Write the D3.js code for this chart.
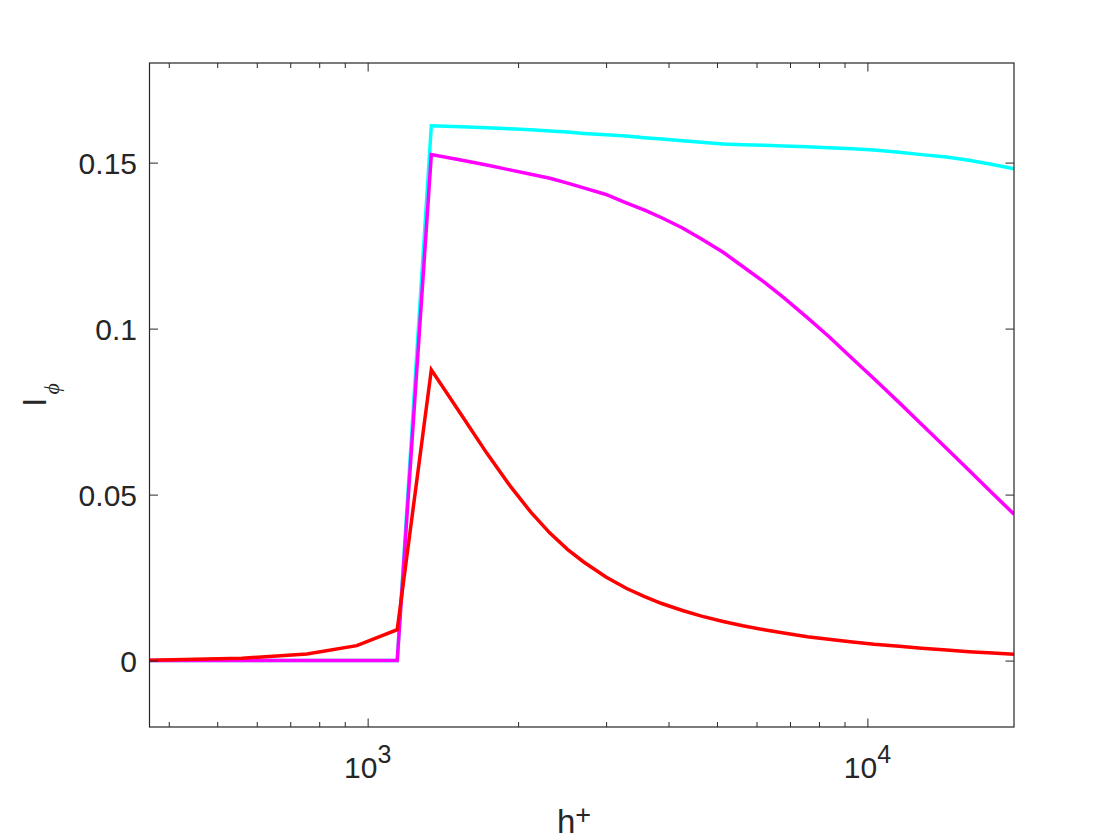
<!DOCTYPE html>
<html>
<head>
<meta charset="utf-8">
<script src="https://cdn.jsdelivr.net/npm/d3@7"></script>
<style>
  html, body { margin: 0; padding: 0; background: #ffffff; }
  svg { display: block; }
  text { font-family: "Liberation Sans", Arial, Helvetica, sans-serif; fill: #262626; }
</style>
</head>
<body>
<svg id="chart" width="1120" height="840"></svg>
<script>
// ---- data ----
const hPlus = [366, 561, 756, 951, 1146, 1341, 1536, 1731, 1926, 2121, 2316, 2511, 2706, 2998, 3291, 3583, 3876, 4266, 4656, 5144, 5631, 6216, 6801, 7581, 8361, 9336, 10311, 11578, 12846, 14406, 15966, 17808, 19650];
const seriesCyan    = [0, 0, 0, 0, 0, 0.1611, 0.1608, 0.1605, 0.1602, 0.1599, 0.1595, 0.1592, 0.1588, 0.1584, 0.1580, 0.1575, 0.1571, 0.1566, 0.1561, 0.1556, 0.1554, 0.1552, 0.1550, 0.1548, 0.1545, 0.1542, 0.1538, 0.1531, 0.1524, 0.1517, 0.1507, 0.1494, 0.1481];
const seriesMagenta = [0, 0, 0, 0, 0, 0.1524, 0.1508, 0.1493, 0.1478, 0.1465, 0.1453, 0.1438, 0.1424, 0.1404, 0.1379, 0.1357, 0.1334, 0.1303, 0.1270, 0.1230, 0.1187, 0.1140, 0.1093, 0.1033, 0.0977, 0.0909, 0.0849, 0.0777, 0.0711, 0.0639, 0.0573, 0.0503, 0.0441];
const seriesRed     = [0.0001, 0.0007, 0.0020, 0.0045, 0.0093, 0.0876, 0.0743, 0.0625, 0.0527, 0.0447, 0.0384, 0.0335, 0.0297, 0.0252, 0.0218, 0.0193, 0.0172, 0.0151, 0.0134, 0.0118, 0.0105, 0.0093, 0.0083, 0.0072, 0.0064, 0.0056, 0.0049, 0.0043, 0.0037, 0.0032, 0.0027, 0.0023, 0.0019];
const seriesColors  = ["#00ffff", "#ff00ff", "#ff0000"];
const xDomain = [366, 19650];
const yDomain = [-0.02, 0.18];
const yTickValues = [0, 0.05, 0.1, 0.15];
const yTickLabels = ["0", "0.05", "0.1", "0.15"];
const xMajorTicks = [1000, 10000];
const xMajorExp = ["3", "4"];
const xMinorTicks = [400, 500, 600, 700, 800, 900, 2000, 3000, 4000, 5000, 6000, 7000, 8000, 9000];

// ---- layout ----
const L = 149.5, R = 1014, T = 63, B = 727;
const svg = d3.select("#chart");
const x = d3.scaleLog().domain(xDomain).range([L, R]);
const y = d3.scaleLinear().domain(yDomain).range([B, T]);
const axisColor = "#262626";

svg.append("rect").attr("width", 1120).attr("height", 840).attr("fill", "#ffffff");

svg.append("defs").append("clipPath").attr("id", "plotclip")
  .append("rect").attr("x", L).attr("y", T).attr("width", R - L).attr("height", B - T);

// ---- lines ----
const series = [seriesCyan, seriesMagenta, seriesRed];
const line = d3.line().x((d, i) => x(hPlus[i])).y(d => y(d));
const gLines = svg.append("g").attr("clip-path", "url(#plotclip)");
series.forEach((s, k) => {
  gLines.append("path")
    .datum(s)
    .attr("d", line)
    .attr("fill", "none")
    .attr("stroke", seriesColors[k])
    .attr("stroke-width", 3.5)
    .attr("stroke-linejoin", "miter");
});

// ---- axes (box with inward ticks on all sides) ----
const gAx = svg.append("g");
const majorLen = 8.5, minorLen = 5;

const xAxisBottom = d3.axisBottom(x).tickValues(xMajorTicks).tickSize(-majorLen).tickFormat("");
const xAxisBottomMinor = d3.axisBottom(x).tickValues(xMinorTicks).tickSize(-minorLen).tickFormat("");
const xAxisTop = d3.axisTop(x).tickValues(xMajorTicks).tickSize(-majorLen).tickFormat("");
const xAxisTopMinor = d3.axisTop(x).tickValues(xMinorTicks).tickSize(-minorLen).tickFormat("");
const yAxisLeft = d3.axisLeft(y).tickValues(yTickValues).tickSize(-majorLen).tickFormat("");
const yAxisRight = d3.axisRight(y).tickValues(yTickValues).tickSize(-majorLen).tickFormat("");

function styleAxis(g) {
  g.selectAll("path.domain").remove();
  g.selectAll("line").attr("stroke", axisColor).attr("stroke-width", 1);
}
gAx.append("g").attr("transform", `translate(0,${B})`).call(xAxisBottom).call(styleAxis);
gAx.append("g").attr("transform", `translate(0,${B})`).call(xAxisBottomMinor).call(styleAxis);
gAx.append("g").attr("transform", `translate(0,${T})`).call(xAxisTop).call(styleAxis);
gAx.append("g").attr("transform", `translate(0,${T})`).call(xAxisTopMinor).call(styleAxis);
gAx.append("g").attr("transform", `translate(${L},0)`).call(yAxisLeft).call(styleAxis);
gAx.append("g").attr("transform", `translate(${R},0)`).call(yAxisRight).call(styleAxis);

gAx.append("rect")
  .attr("x", L).attr("y", T).attr("width", R - L).attr("height", B - T)
  .attr("fill", "none").attr("stroke", axisColor).attr("stroke-width", 1.2);

// ---- y tick labels ----
yTickValues.forEach((v, i) => {
  svg.append("text")
    .attr("x", L - 12.5)
    .attr("y", y(v) + 11)
    .attr("text-anchor", "end")
    .attr("font-size", 30)
    .text(yTickLabels[i]);
});

// ---- x tick labels (10^n) ----
xMajorTicks.forEach((v, i) => {
  const t = svg.append("text")
    .attr("x", x(v))
    .attr("y", 778)
    .attr("text-anchor", "middle")
    .attr("font-size", 30);
  t.append("tspan").text("10");
  t.append("tspan").attr("font-size", 25).attr("dy", -15).text(xMajorExp[i]);
});

// ---- axis labels ----
const xl = svg.append("text")
  .attr("x", 557)
  .attr("y", 833)
  .attr("font-size", 33);
xl.append("tspan").text("h");
xl.append("tspan").attr("font-size", 27).attr("dy", -9).text("+");

const yl = svg.append("text")
  .attr("transform", "translate(46,395) rotate(-90)")
  .attr("text-anchor", "middle")
  .attr("font-size", 33);
yl.append("tspan").text("I");
yl.append("tspan")
  .attr("font-size", 22)
  .attr("dy", 13)
  .attr("dx", 3)
  .attr("font-family", "'Liberation Serif', 'DejaVu Serif', serif")
  .attr("font-style", "italic")
  .text("ϕ");
</script>
</body>
</html>
